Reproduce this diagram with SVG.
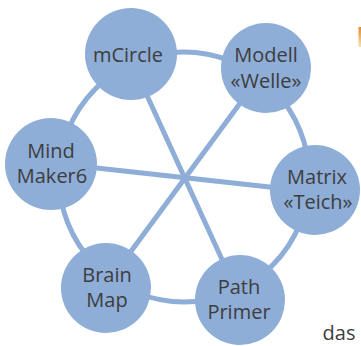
<svg xmlns="http://www.w3.org/2000/svg" width="361" height="346" viewBox="0 0 361 346">
  <style>
    .edge { stroke: #8EADD7; stroke-width: 5; fill: none; stroke-linecap: butt; }
    .node { fill: #8EADD7; }
    .lbl { font-family: "Open Sans", "Liberation Sans", sans-serif; font-size: 20px; fill: #3d3d3d; text-anchor: middle; }
  </style>
  <defs>
    <linearGradient id="bar" x1="0" y1="0" x2="0" y2="1">
      <stop offset="0" stop-color="#e08a2a"/>
      <stop offset="1" stop-color="#f7e0b8"/>
    </linearGradient>
  </defs>
  <rect width="361" height="346" fill="#ffffff"/>
  <g id="connectors">
    <circle class="edge" cx="184" cy="177" r="125" stroke-width="5.5"/>
    <line class="edge" x1="128" y1="54" x2="241" y2="301"/>
    <line class="edge" x1="266" y1="68" x2="104" y2="288"/>
    <line class="edge" x1="51" y1="163" x2="315" y2="192"/>
  </g>
  <g id="mCircle">
    <circle class="node" cx="131" cy="54" r="46"/>
    <text class="lbl" x="128" y="62">mCircle</text>
  </g>
  <g id="modell">
    <circle class="node" cx="266" cy="68" r="45"/>
    <text class="lbl" x="266" y="62">Modell</text>
    <text class="lbl" x="266" y="88">«Welle»</text>
  </g>
  <g id="matrix">
    <circle class="node" cx="315" cy="190" r="45"/>
    <text class="lbl" x="317" y="184">Matrix</text>
    <text class="lbl" x="318" y="209">«Teich»</text>
  </g>
  <g id="path-primer">
    <circle class="node" cx="240" cy="300" r="45"/>
    <text class="lbl" x="239" y="294">Path</text>
    <text class="lbl" x="239" y="319">Primer</text>
  </g>
  <g id="brain-map">
    <circle class="node" cx="106" cy="288" r="45"/>
    <text class="lbl" x="107" y="282">Brain</text>
    <text class="lbl" x="107" y="307">Map</text>
  </g>
  <g id="mind-maker6">
    <circle class="node" cx="51" cy="164" r="46"/>
    <text class="lbl" x="51" y="158">Mind</text>
    <text class="lbl" x="52" y="183">Maker6</text>
  </g>
  <text class="lbl" x="339" y="340" fill="#333333">das</text>
  <rect x="358.5" y="27" width="2.5" height="20" fill="url(#bar)"/>
</svg>
